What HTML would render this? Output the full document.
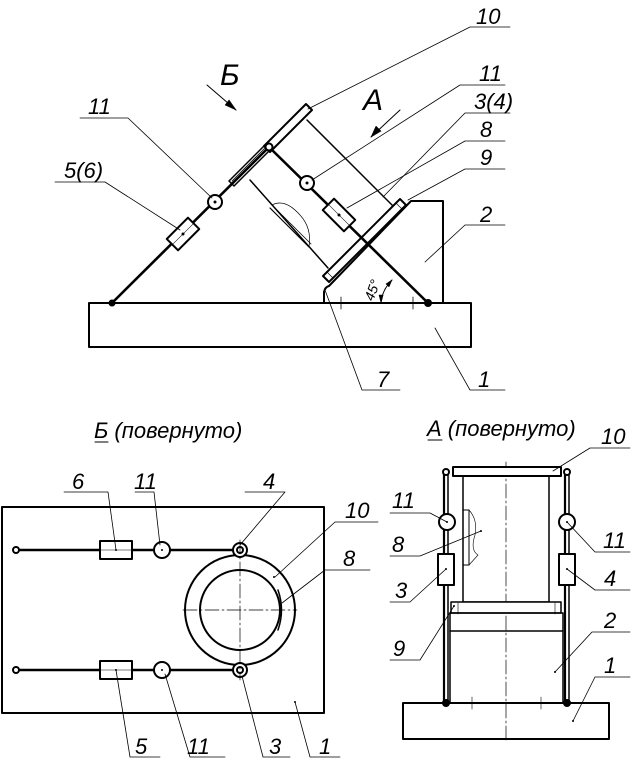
<!DOCTYPE html>
<html><head><meta charset="utf-8"><style>
html,body{margin:0;padding:0;background:#fff;}
svg{display:block;}
text{font-family:"Liberation Sans",sans-serif;font-style:italic;fill:#000;}
</style></head><body>
<svg width="636" height="762" viewBox="0 0 636 762" xmlns="http://www.w3.org/2000/svg">
<g fill="none" stroke="#000" stroke-linecap="round" stroke-linejoin="round">
<rect x="89" y="303" width="382" height="44" stroke-width="2"/>
<path d="M324 303 L324 292 Q325 287 329 286 L411 201 L443 201 L443 303" stroke-width="2"/>
<line x1="341" y1="297" x2="341" y2="309" stroke-width="0.8"/>
<line x1="413" y1="297" x2="413" y2="309" stroke-width="0.8"/>
<line x1="307" y1="120" x2="393" y2="206" stroke-width="1.5"/>
<line x1="250" y1="180" x2="328" y2="268" stroke-width="1.5"/>
<path d="M270 208 L309 247" stroke-width="1.2"/>
<path d="M272 205 L311 244" stroke-width="0.8"/>
<path d="M272 205 Q285 198 300 215 Q312 228 309 247" stroke-width="0.7"/>
<polygon points="264,146 306,104 312,110 270,152" stroke-width="2"/>
<polygon points="229,181 266,144 271,149 234,186" stroke-width="1.5"/>
<line x1="232" y1="181" x2="267" y2="146" stroke-width="0.8"/>
<polygon points="323,276 400,199 406,205 329,282" stroke-width="2"/>
<line x1="327" y1="272" x2="333" y2="278" stroke-width="0.6"/>
<line x1="396" y1="203" x2="402" y2="209" stroke-width="0.6"/>
<line x1="112" y1="303" x2="269" y2="147" stroke-width="2.6"/>
<line x1="269" y1="147" x2="428" y2="303" stroke-width="2.6"/>
<circle cx="112" cy="303" r="3" fill="#000"/>
<circle cx="428" cy="303" r="3.5" fill="#000"/>
<circle cx="269" cy="147" r="3.5" fill="#fff" stroke-width="2"/>
<circle cx="215" cy="202" r="7" fill="#fff" stroke-width="2"/>
<circle cx="307" cy="183" r="7" fill="#fff" stroke-width="2"/>
<g transform="translate(183,234) rotate(-45)"><rect x="-15" y="-8" width="30" height="16" fill="#fff" stroke-width="2"/><line x1="-15" y1="0" x2="15" y2="0" stroke-width="0.5"/></g>
<g transform="translate(339,215) rotate(45)"><rect x="-15" y="-8" width="30" height="16" fill="#fff" stroke-width="2"/><line x1="-15" y1="0" x2="15" y2="0" stroke-width="0.5"/></g>
<circle cx="215" cy="202" r="1" fill="#000"/><circle cx="307" cy="183" r="1" fill="#000"/>
<circle cx="183" cy="234" r="1" fill="#000"/><circle cx="339" cy="215" r="1" fill="#000"/>
<path d="M381 303 Q382 290 392 280" stroke-width="1"/>
<path d="M381 303 l-2 -8 l4 0z M392 280 l-3 7 l-3 -3z" fill="#000" stroke-width="0.5"/>
<line x1="207" y1="85" x2="236" y2="110" stroke-width="1"/>
<path d="M236 110 l-11 -5 l4 -5z" fill="#000" stroke-width="0.5"/>
<line x1="400" y1="110" x2="371" y2="137" stroke-width="1"/>
<path d="M371 137 l5 -11 l5 5z" fill="#000" stroke-width="0.5"/>
<g stroke-width="0.8">
<path d="M308 109 L470 27 L510 27"/>
<path d="M312 180 L460 85 L505 85"/>
<path d="M383 197 L465 113 L510 113"/>
<path d="M347 208 L465 141 L505 141"/>
<path d="M408 200 L465 169 L505 169"/>
<path d="M425 262 L465 225 L505 225"/>
<path d="M435 328 L470 390 L505 390"/>
<path d="M325 290 L362 390 L400 390"/>
<path d="M212 198 L128 118 L80 118"/>
<path d="M180 230 L105 182 L55 182"/>
</g>
<rect x="2" y="507" width="322" height="206" stroke-width="2"/>
<line x1="16" y1="550" x2="238" y2="550" stroke-width="2.4"/>
<line x1="16" y1="670" x2="238" y2="670" stroke-width="2.4"/>
<circle cx="16" cy="550" r="3" fill="#fff" stroke-width="2"/>
<circle cx="16" cy="670" r="3" fill="#fff" stroke-width="2"/>
<rect x="100" y="541" width="32" height="18" fill="#fff" stroke-width="2"/>
<rect x="100" y="661" width="32" height="18" fill="#fff" stroke-width="2"/>
<line x1="100" y1="550" x2="132" y2="550" stroke-width="0.5"/>
<line x1="100" y1="670" x2="132" y2="670" stroke-width="0.5"/>
<circle cx="162" cy="550" r="8" fill="#fff" stroke-width="2"/>
<circle cx="162" cy="670" r="8" fill="#fff" stroke-width="2"/>
<circle cx="240" cy="610" r="55" stroke-width="2"/>
<circle cx="240" cy="610" r="40" stroke-width="2"/>
<circle cx="240" cy="550" r="7" fill="#fff" stroke-width="2"/><circle cx="240" cy="550" r="3" stroke-width="2"/>
<circle cx="240" cy="670" r="7" fill="#fff" stroke-width="2"/><circle cx="240" cy="670" r="3" stroke-width="2"/>
<line x1="240" y1="540" x2="240" y2="680" stroke-width="0.7" stroke-dasharray="14,3,2,3"/>
<line x1="183" y1="610" x2="297" y2="610" stroke-width="0.7" stroke-dasharray="14,3,2,3"/>
<path d="M278 590 Q285 610 278 630" stroke-width="1.5"/>
<g fill="#000" stroke="none"><circle cx="116" cy="550" r="1"/><circle cx="116" cy="670" r="1"/><circle cx="162" cy="550" r="1"/><circle cx="162" cy="670" r="1"/><circle cx="274" cy="577" r="1"/><circle cx="295" cy="702" r="1"/></g>
<g stroke-width="0.8">
<path d="M64 492 L108 492 L116 550"/>
<path d="M135 492 L154 492 L160 545"/>
<path d="M245 492 L285 492 L240 545"/>
<path d="M378 522 L335 522 L275 577"/>
<path d="M370 570 L325 570 L282 603"/>
<path d="M116 670 L130 757 L160 757"/>
<path d="M165 674 L190 757 L225 757"/>
<path d="M242 676 L263 757 L290 757"/>
<path d="M295 702 L310 757 L340 757"/>
</g>
<line x1="95" y1="442" x2="108" y2="442" stroke-width="1"/>
<rect x="403" y="703" width="206" height="36" stroke-width="2"/>
<line x1="506" y1="462" x2="506" y2="740" stroke-width="0.7" stroke-dasharray="14,3,2,3"/>
<rect x="463" y="476" width="86" height="126" stroke-width="1.5"/>
<rect x="453" y="467" width="108" height="9" fill="#fff" stroke-width="2"/>
<rect x="451" y="602" width="110" height="11" fill="#fff" stroke-width="1.5"/>
<rect x="450" y="613" width="113" height="90" stroke-width="1.5"/>
<line x1="450" y1="631" x2="563" y2="631" stroke-width="1.5"/>
<line x1="458" y1="603" x2="458" y2="614" stroke-width="0.6"/><line x1="555" y1="603" x2="555" y2="614" stroke-width="0.6"/>
<line x1="472" y1="697" x2="472" y2="709" stroke-width="0.6"/><line x1="541" y1="697" x2="541" y2="709" stroke-width="0.6"/>
<line x1="444" y1="472" x2="444" y2="703" stroke-width="2.2"/><line x1="448" y1="472" x2="448" y2="703" stroke-width="1.5"/>
<line x1="565" y1="472" x2="565" y2="703" stroke-width="2.2"/><line x1="569" y1="472" x2="569" y2="703" stroke-width="1.5"/>
<circle cx="446" cy="472" r="3" fill="#fff" stroke-width="2"/>
<circle cx="567" cy="472" r="3" fill="#fff" stroke-width="2"/>
<circle cx="446" cy="703" r="3.5" fill="#000"/><circle cx="567" cy="703" r="3.5" fill="#000"/>
<circle cx="447" cy="522" r="8" fill="#fff" stroke-width="2"/>
<circle cx="567" cy="522" r="8" fill="#fff" stroke-width="2"/>
<rect x="438" y="554" width="16" height="31" fill="#fff" stroke-width="2"/>
<rect x="559" y="554" width="16" height="31" fill="#fff" stroke-width="2"/>
<rect x="463" y="510" width="6" height="55" stroke-width="1"/>
<path d="M469 510 Q478 520 475 535 Q470 550 478 555 L469 565" stroke-width="0.6"/>
<g fill="#000" stroke="none"><circle cx="447" cy="522" r="1"/><circle cx="567" cy="522" r="1"/><circle cx="446" cy="569" r="1"/><circle cx="567" cy="569" r="1"/><circle cx="481" cy="531" r="1"/><circle cx="555" cy="672" r="1"/><circle cx="573" cy="721" r="1"/><circle cx="454" cy="606" r="1"/></g>
<g stroke-width="0.8">
<path d="M553 471 L590 448 L630 448"/>
<path d="M390 513 L430 513 L447 522"/>
<path d="M390 556 L420 556 L481 531"/>
<path d="M390 602 L410 602 L446 569"/>
<path d="M390 660 L420 660 L454 606"/>
<path d="M567 522 L595 552 L630 552"/>
<path d="M567 569 L595 590 L630 590"/>
<path d="M555 672 L592 632 L630 632"/>
<path d="M573 721 L595 677 L630 677"/>
</g>
<line x1="428" y1="440" x2="442" y2="440" stroke-width="1"/>
</g>
<g font-size="22">
<text x="476" y="24">10</text>
<text x="479" y="81">11</text>
<text x="474" y="109">3(4)</text>
<text x="480" y="137">8</text>
<text x="480" y="165">9</text>
<text x="480" y="222">2</text>
<text x="478" y="387">1</text>
<text x="377" y="387">7</text>
<text x="88" y="114">11</text>
<text x="64" y="178">5(6)</text>
<text x="220" y="85" font-style="normal" font-size="30">Б</text>
<text x="363" y="110" font-style="normal" font-size="30">А</text>
<text x="94" y="438">Б (повернуто)</text>
<text x="427" y="436">А (повернуто)</text>
<text x="72" y="489">6</text>
<text x="134" y="489">11</text>
<text x="263" y="489">4</text>
<text x="345" y="518">10</text>
<text x="343" y="566">8</text>
<text x="135" y="754">5</text>
<text x="187" y="754">11</text>
<text x="269" y="754">3</text>
<text x="319" y="754">1</text>
<text x="601" y="444">10</text>
<text x="392" y="508">11</text>
<text x="392" y="552">8</text>
<text x="395" y="598">3</text>
<text x="393" y="656">9</text>
<text x="603" y="548">11</text>
<text x="604" y="586">4</text>
<text x="604" y="628">2</text>
<text x="604" y="673">1</text>
</g>
<text x="360" y="297" font-size="14" transform="rotate(-70 370 290)">45°</text>
</svg>
</body></html>
